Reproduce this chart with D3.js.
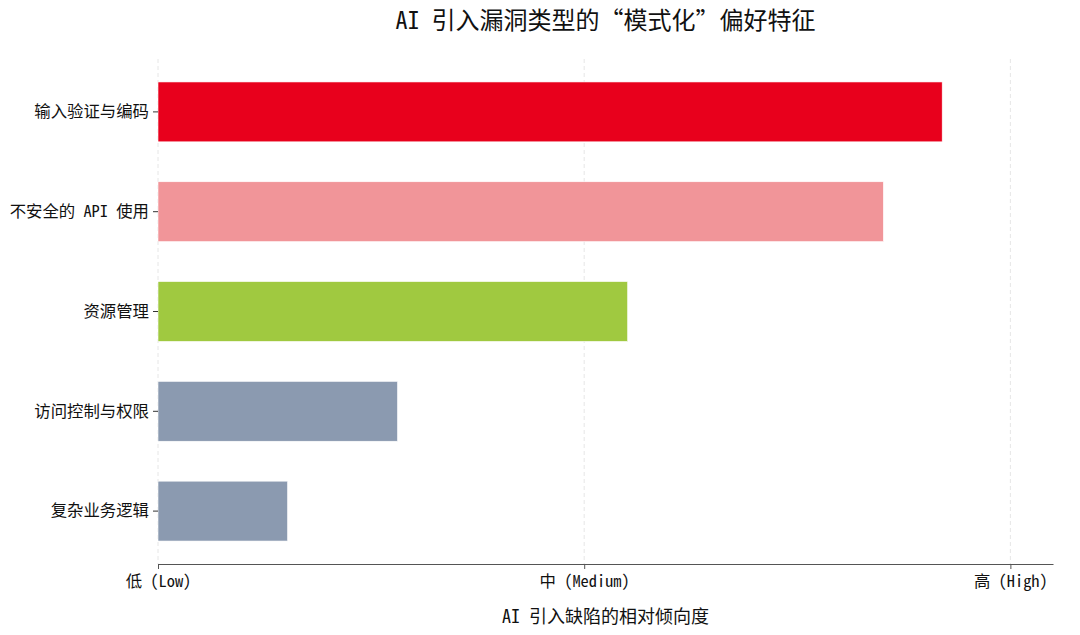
<!DOCTYPE html>
<html>
<head>
<meta charset="utf-8">
<script src="https://cdn.jsdelivr.net/npm/d3@7"></script>
<style>
  body { margin: 0; background: #fff; }
  svg text { font-family: "Noto Sans Mono CJK SC", "Noto Sans CJK SC", "DejaVu Sans Mono", sans-serif; fill: #111; }
</style>
</head>
<body>
<script>
// Horizontal bar chart: AI-introduced vulnerability types

const categories = ["输入验证与编码", "不安全的 API 使用", "资源管理", "访问控制与权限", "复杂业务逻辑"];
const values = [0.92, 0.851, 0.551, 0.281, 0.152];
const barColors = ["#e8001c", "#f19599", "#a0c940", "#8b9ab0", "#8b9ab0"];
const tickValues = [0, 0.5, 1];
const tickLabels = ["低 (Low)", "中 (Medium)", "高 (High)"];

const width = 1080;
const height = 635;
const margin = { top: 59, right: 27, bottom: 71, left: 158 };
const plotWidth = width - margin.left - margin.right;
const plotHeight = height - margin.top - margin.bottom;

const svg = d3
  .select("body")
  .append("svg")
  .attr("width", width)
  .attr("height", height);

const g = svg.append("g").attr("transform", `translate(${margin.left},${margin.top})`);

const xScale = d3.scaleLinear().domain([0, 1.05]).range([0, plotWidth]);

const yScale = d3
  .scaleBand()
  .domain(categories)
  .range([0, plotHeight])
  .paddingInner(0.4)
  .paddingOuter(0.23);

// dashed vertical gridlines
g.selectAll("line.grid")
  .data(tickValues)
  .enter()
  .append("line")
  .attr("class", "grid")
  .attr("x1", (d) => xScale(d))
  .attr("x2", (d) => xScale(d))
  .attr("y1", 0)
  .attr("y2", plotHeight)
  .attr("stroke", "#e6e6e6")
  .attr("stroke-width", 1)
  .attr("stroke-dasharray", "4,3");

g.selectAll("rect.bar")
  .data(categories)
  .enter()
  .append("rect")
  .attr("class", "bar")
  .attr("x", 0)
  .attr("y", (d) => yScale(d))
  .attr("width", (d, i) => xScale(values[i]))
  .attr("height", yScale.bandwidth())
  .attr("fill", (d, i) => barColors[i])
  .attr("stroke", "#fff")
  .attr("stroke-width", 0.6);

// y axis: ticks and labels only, no spine
const yAxis = g
  .append("g")
  .call(d3.axisLeft(yScale).tickSize(5).tickPadding(4));
yAxis.select(".domain").remove();
yAxis.selectAll(".tick line").attr("stroke", "#333");
yAxis.selectAll(".tick text").attr("font-size", "16.4px").attr("fill", "#111");

// x axis
const xAxis = g
  .append("g")
  .attr("transform", `translate(0,${plotHeight})`)
  .call(
    d3
      .axisBottom(xScale)
      .tickValues(tickValues)
      .tickFormat((d, i) => tickLabels[i])
      .tickSize(5)
      .tickSizeOuter(0)
      .tickPadding(6)
  );
xAxis.select(".domain").attr("stroke", "#555").attr("stroke-width", 1.2);
xAxis.selectAll(".tick line").attr("stroke", "#555");
xAxis.selectAll(".tick text").attr("font-size", "16.4px").attr("fill", "#111");

// title
svg
  .append("text")
  .attr("x", margin.left + plotWidth / 2)
  .attr("y", 29)
  .attr("text-anchor", "middle")
  .attr("font-size", "24px")
  .text("AI 引入漏洞类型的“模式化”偏好特征");

// x axis label
svg
  .append("text")
  .attr("x", margin.left + plotWidth / 2)
  .attr("y", 623)
  .attr("text-anchor", "middle")
  .attr("font-size", "18px")
  .text("AI 引入缺陷的相对倾向度");
</script>
</body>
</html>
